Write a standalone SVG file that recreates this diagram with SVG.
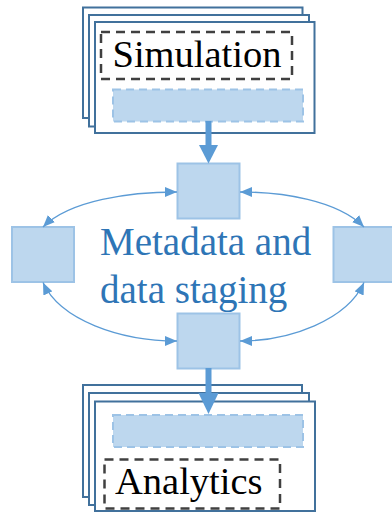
<svg xmlns="http://www.w3.org/2000/svg" width="392" height="512" viewBox="0 0 392 512">
  <defs>
    <style>
      .stack { fill: #ffffff; stroke: #41719c; stroke-width: 2; }
      .label-box { fill: none; stroke: #404040; stroke-width: 2.5; stroke-dasharray: 9 6; }
      .buffer { fill: #bdd7ee; stroke: #9dc3e6; stroke-width: 2; stroke-dasharray: 8 5; }
      .stage { fill: #bdd7ee; stroke: #9dc3e6; stroke-width: 2; }
      .label { font-size: 38.5px; fill: #000000; }
      .center { font-size: 39px; fill: #2e75b6; }
      .thin { fill: none; stroke: #5b9bd5; stroke-width: 1.3; marker-start: url(#ah); marker-end: url(#ah); }
      .thick { stroke: #5b9bd5; stroke-width: 6; }
      .head { fill: #5b9bd5; }
    </style>
    <marker id="ah" viewBox="0 0 12 10" refX="12" refY="5" markerWidth="12" markerHeight="10" markerUnits="userSpaceOnUse" orient="auto-start-reverse">
      <path d="M0,0 L12,5 L0,10 Z" fill="#5b9bd5"/>
    </marker>
  </defs>

  <g id="simulation">
    <rect class="stack" x="83" y="7.5" width="219.5" height="110.5"/>
    <rect class="stack" x="89" y="15" width="220" height="111.5"/>
    <rect class="stack" x="95" y="22" width="219.5" height="111"/>
    <rect class="label-box" x="101" y="32" width="191" height="47"/>
    <text class="label" font-family="Times New Roman, Liberation Serif, Tinos, FreeSerif, Noto Serif, DejaVu Serif, serif" x="112.5" y="67">Simulation</text>
    <rect class="buffer" x="113" y="89.5" width="190" height="32"/>
  </g>

  <g id="analytics">
    <rect class="stack" x="83" y="385" width="219" height="112"/>
    <rect class="stack" x="89" y="393" width="220" height="112"/>
    <rect class="stack" x="95" y="401.5" width="220" height="109.5"/>
    <rect class="buffer" x="113" y="415" width="190" height="32"/>
    <rect class="label-box" x="104.5" y="459.5" width="175.5" height="49"/>
    <text class="label" font-family="Times New Roman, Liberation Serif, Tinos, FreeSerif, Noto Serif, DejaVu Serif, serif" x="115" y="493.5">Analytics</text>
  </g>

  <g id="stage-top"><rect class="stage" x="177.5" y="163.5" width="62" height="55"/></g>
  <g id="stage-left"><rect class="stage" x="12" y="227" width="62" height="55"/></g>
  <g id="stage-right"><rect class="stage" x="333.5" y="227" width="62" height="55"/></g>
  <g id="stage-bottom"><rect class="stage" x="177.5" y="313.5" width="62" height="55"/></g>

  <g id="staging-label" font-family="Times New Roman, Liberation Serif, Tinos, FreeSerif, Noto Serif, DejaVu Serif, serif">
    <text class="center" x="100" y="255">Metadata and</text>
    <text class="center" x="100" y="303">data staging</text>
  </g>

  <g id="connectors">
    <line class="thick" x1="208.5" y1="121" x2="208.5" y2="147"/>
    <polygon class="head" points="199,145 218,145 208.5,163.5"/>
    <line class="thick" x1="208.5" y1="368" x2="208.5" y2="395"/>
    <polygon class="head" points="198.5,393 218.5,393 208.5,414"/>
    <path class="thin" d="M 43,227 C 70,200 130,192 177,192"/>
    <path class="thin" d="M 364,227 C 337,200 282,192 240,192"/>
    <path class="thin" d="M 43,282.5 C 60,320 120,341 177,341"/>
    <path class="thin" d="M 364,282.5 C 347,320 290,341 240,341"/>
  </g>
</svg>
